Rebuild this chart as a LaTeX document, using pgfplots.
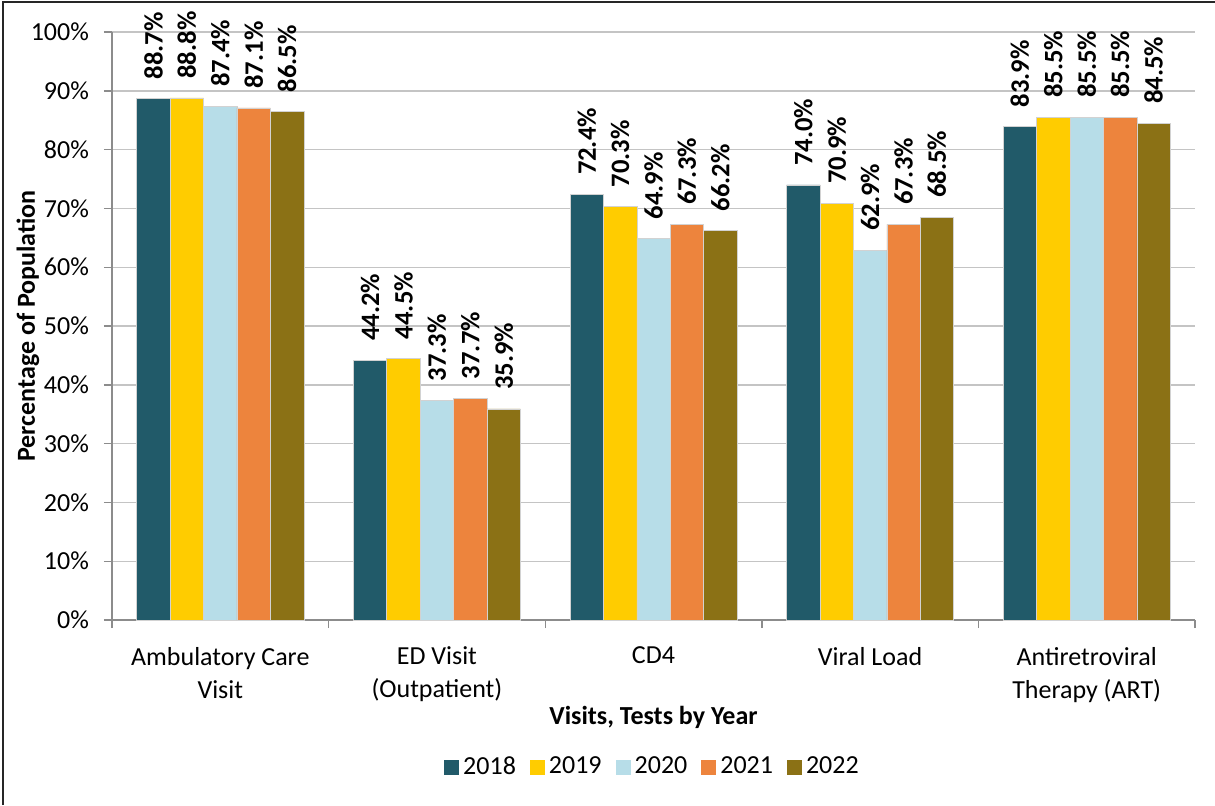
\documentclass[border=0pt]{standalone}
\usepackage{fontspec}
\setmainfont{Carlito}
\usepackage{pgfplots}
\pgfplotsset{compat=1.18}
\definecolor{c2018}{HTML}{215A69}
\definecolor{c2019}{HTML}{FFCC00}
\definecolor{c2020}{HTML}{B7DDE8}
\definecolor{c2021}{HTML}{ED843D}
\definecolor{c2022}{HTML}{8B7115}
\definecolor{gridc}{HTML}{C4C4C4}
\definecolor{axisc}{HTML}{8C8C8C}

\begin{document}
\begin{tikzpicture}
  \path[use as bounding box] (0,0) rectangle (607.5pt,402.5pt);
  \begin{axis}[
    at={(56pt,92.5pt)}, anchor=south west,
    scale only axis, width=541.5pt, height=294pt,
    ybar=0pt, bar width=16.7pt,
    xmin=-0.5, xmax=4.5, ymin=0, ymax=100,
    /pgf/number format/assume math mode=true,
    font=\fontsize{13}{15.6}\selectfont,
    xtick={0,1,2,3,4},
    xticklabels={{Ambulatory Care\\Visit},{ED Visit\\(Outpatient)},CD4,Viral Load,{Antiretroviral\\Therapy (ART)}},
    xticklabel style={align=center, font=\fontsize{13}{16.5}\selectfont, yshift=-6pt},
    major x tick style={draw=none},
    minor xtick={-0.5,0.5,...,4.5},
    ytick={0,10,...,100},
    yticklabel={\pgfmathprintnumber{\tick}\%},
    yticklabel style={xshift=-4pt},
    tick align=outside, major tick length=4pt, minor tick length=4pt,
    tick style={axisc, line width=0.7pt},
    axis x line*=bottom, axis y line*=left,
    axis line style={axisc, line width=0.7pt, -},
    ymajorgrids, grid style={gridc, line width=0.7pt},
    clip=false,
    xlabel={Visits, Tests by Year},
    xlabel style={at={(axis description cs:0.5,-0.165)}, anchor=center, font=\bfseries\fontsize{13}{15.6}\selectfont},
    ylabel={Percentage of Population},
    ylabel style={at={(axis description cs:-0.0776,0.5)}, anchor=center, font=\bfseries\fontsize{13}{15.6}\selectfont},
    point meta=y,
    nodes near coords={\pgfmathprintnumber[fixed,fixed zerofill,precision=1]{\pgfplotspointmeta}\%},
    nodes near coords style={rotate=90, anchor=west, inner xsep=9.5pt, font=\bfseries\fontsize{13.3}{15.6}\selectfont, black},
    legend style={at={(0.5,-0.25)}, anchor=center, draw=none, legend columns=-1,
      font=\fontsize{13}{15.6}\selectfont,
      /tikz/every even column/.append style={column sep=5pt}},
    legend image code/.code={\fill[#1, draw=none] (0pt,-3.75pt) rectangle (7.5pt,3.75pt);},
  ]
    \addplot[fill=c2018, draw=gray!35, line width=0.3pt] coordinates {(0,88.7) (1,44.2) (2,72.4) (3,74.0) (4,83.9)};
    \addplot[fill=c2019, draw=gray!35, line width=0.3pt] coordinates {(0,88.8) (1,44.5) (2,70.3) (3,70.9) (4,85.5)};
    \addplot[fill=c2020, draw=gray!35, line width=0.3pt] coordinates {(0,87.4) (1,37.3) (2,64.9) (3,62.9) (4,85.5)};
    \addplot[fill=c2021, draw=gray!35, line width=0.3pt] coordinates {(0,87.1) (1,37.7) (2,67.3) (3,67.3) (4,85.5)};
    \addplot[fill=c2022, draw=gray!35, line width=0.3pt] coordinates {(0,86.5) (1,35.9) (2,66.2) (3,68.5) (4,84.5)};
    \legend{2018,2019,2020,2021,2022}
  \end{axis}
  \draw[line width=1.1pt, black!85] (1.5pt,0pt) -- (1.5pt,401.6pt) -- (607.5pt,401.6pt);
\end{tikzpicture}
\end{document}
